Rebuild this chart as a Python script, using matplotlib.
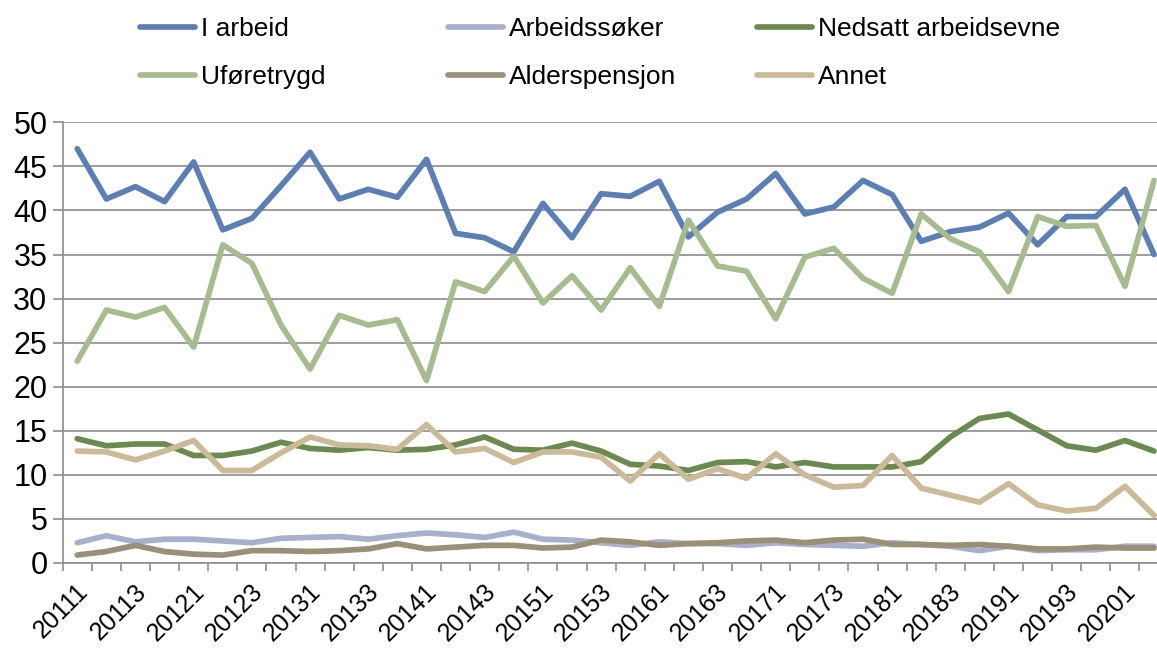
import numpy as np
import matplotlib
matplotlib.use('Agg')
from matplotlib import pyplot as plt
from matplotlib.transforms import ScaledTranslation

plt.rcParams['font.family'] = ['Liberation Sans', 'DejaVu Sans']

# kvartaler 2011K1 - 2020K2
kvartal = [f'{aar}{k}' for aar in range(2011, 2021) for k in range(1, 5)][:38]

i_arbeid = [47.0, 41.3, 42.7, 41.0, 45.5, 37.8, 39.1, 42.8, 46.6, 41.3,
            42.4, 41.5, 45.8, 37.4, 36.9, 35.3, 40.8, 36.9, 41.9, 41.6,
            43.3, 37.0, 39.8, 41.3, 44.2, 39.6, 40.4, 43.4, 41.8, 36.5,
            37.6, 38.1, 39.7, 36.1, 39.3, 39.3, 42.4, 35.0]
arbeidssoker = [2.3, 3.1, 2.4, 2.7, 2.7, 2.5, 2.3, 2.8, 2.9, 3.0,
                2.7, 3.1, 3.4, 3.2, 2.9, 3.5, 2.7, 2.6, 2.3, 2.0,
                2.4, 2.2, 2.2, 2.0, 2.3, 2.1, 2.0, 1.9, 2.3, 2.1,
                1.9, 1.4, 1.9, 1.4, 1.5, 1.5, 1.9, 1.9]
nedsatt = [14.1, 13.3, 13.5, 13.5, 12.2, 12.2, 12.7, 13.7, 13.0, 12.8,
           13.1, 12.8, 12.9, 13.4, 14.3, 12.9, 12.8, 13.6, 12.7, 11.2,
           11.0, 10.5, 11.4, 11.5, 10.9, 11.4, 10.9, 10.9, 10.9, 11.5,
           14.3, 16.4, 16.9, 15.1, 13.3, 12.8, 13.9, 12.7]
uforetrygd = [22.9, 28.7, 27.9, 29.0, 24.5, 36.1, 34.0, 27.0, 22.0, 28.1,
              27.0, 27.6, 20.7, 31.9, 30.8, 34.8, 29.5, 32.6, 28.7, 33.5,
              29.1, 38.9, 33.7, 33.1, 27.7, 34.7, 35.7, 32.3, 30.6, 39.6,
              36.8, 35.3, 30.8, 39.3, 38.2, 38.3, 31.4, 43.4]
alderspensjon = [0.9, 1.3, 2.0, 1.3, 1.0, 0.9, 1.4, 1.4, 1.3, 1.4,
                 1.6, 2.2, 1.6, 1.8, 2.0, 2.0, 1.7, 1.8, 2.6, 2.4,
                 2.0, 2.2, 2.3, 2.5, 2.6, 2.3, 2.6, 2.7, 2.1, 2.1,
                 2.0, 2.1, 1.9, 1.6, 1.6, 1.8, 1.7, 1.7]
annet = [12.7, 12.6, 11.7, 12.7, 13.9, 10.5, 10.5, 12.5, 14.3, 13.4,
         13.3, 12.9, 15.7, 12.6, 13.0, 11.4, 12.6, 12.6, 12.0, 9.3,
         12.4, 9.5, 10.7, 9.6, 12.4, 10.0, 8.6, 8.8, 12.2, 8.5,
         7.7, 6.9, 9.0, 6.6, 5.9, 6.2, 8.7, 5.4]

serier = [('I arbeid', i_arbeid, '#5B7FB4'),
          ('Arbeidssøker', arbeidssoker, '#A8B0CE'),
          ('Nedsatt arbeidsevne', nedsatt, '#6B8A4F'),
          ('Uføretrygd', uforetrygd, '#A6BC8E'),
          ('Alderspensjon', alderspensjon, '#9A9078'),
          ('Annet', annet, '#CBBA98')]

W, H = 1157, 649
fig = plt.figure(figsize=(W / 100, H / 100), dpi=100)
x0, x1 = 62.7, 1168.6
y0, y1 = 563, 122.3
ax = fig.add_axes([x0 / W, (H - y0) / H, (x1 - x0) / W, (y0 - y1) / H])

x = np.arange(len(kvartal))
linjer = []
for navn, verdier, farge in serier:
    l, = ax.plot(x, verdier, color=farge, lw=4.1, label=navn,
                 solid_capstyle='round', solid_joinstyle='round')
    linjer.append(l)

ax.set_xlim(-0.5, len(kvartal) - 0.5)
ax.set_ylim(0, 50)
ax.set_yticks(range(0, 51, 5))
ax.yaxis.grid(True, color='#8C8C8C', lw=1.2)
ax.set_axisbelow(True)

ax.set_xticks(x[::2])
ax.set_xticklabels(kvartal[::2], rotation=45, ha='right', va='center',
                   rotation_mode='anchor')
ax.set_xticks(np.arange(-0.5, len(kvartal)), minor=True)
ax.tick_params(axis='x', which='major', length=0, labelsize=18, pad=18)
ax.tick_params(axis='x', which='minor', length=6, color='#8C8C8C', width=1.2)
ax.tick_params(axis='y', length=7, color='#8C8C8C', width=1.2,
               labelsize=22, pad=4)
forskyv = ScaledTranslation(7 / 100, 0, fig.dpi_scale_trans)
for t in ax.get_xticklabels():
    t.set_transform(t.get_transform() + forskyv)

for s in ['top', 'right']:
    ax.spines[s].set_visible(False)
for s in ['left', 'bottom']:
    ax.spines[s].set_color('#8C8C8C')
    ax.spines[s].set_linewidth(1.2)

# legende i tre kolonner
kolonner = [(0, 3, 140), (1, 4, 448), (2, 5, 757)]
for a, b, xpos in kolonner:
    leg = fig.legend([linjer[a], linjer[b]],
                     [serier[a][0], serier[b][0]],
                     loc='upper left', bbox_to_anchor=(xpos / W, 1 - 17 / H),
                     frameon=False, fontsize=19, handlelength=2.1,
                     handletextpad=0.2, labelspacing=0.92, borderpad=0,
                     borderaxespad=0)
    for h in leg.get_lines():
        h.set_linewidth(4.1)

fig.savefig('out.png', dpi=100)
